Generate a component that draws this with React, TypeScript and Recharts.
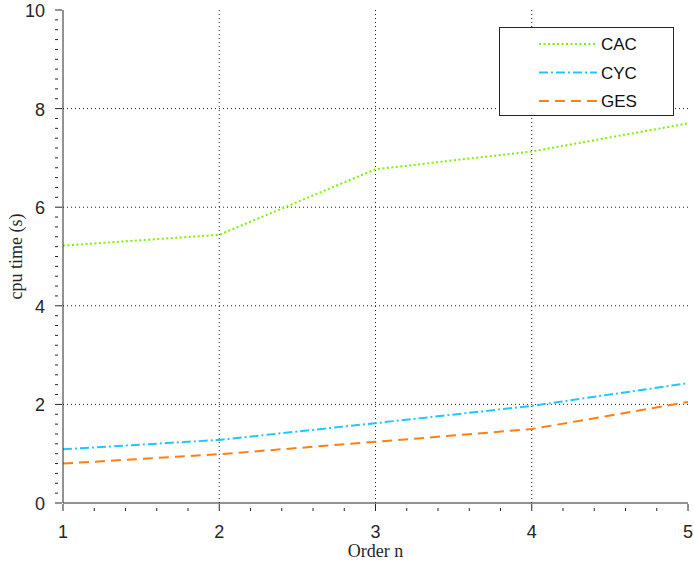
import {
  LineChart,
  Line,
  XAxis,
  YAxis,
  CartesianGrid,
  Legend,
} from "recharts";

const orders = [1, 2, 3, 4, 5];
const cac = [5.22, 5.44, 6.77, 7.13, 7.7];
const cyc = [1.09, 1.28, 1.62, 1.97, 2.43];
const ges = [0.8, 0.99, 1.24, 1.5, 2.05];

const yMajor = [0, 2, 4, 6, 8, 10];
const xMajor = [1, 2, 3, 4, 5];
const yMinor = Array.from({ length: 51 }, (_, i) => Math.round(i * 2) / 10);
const xMinor = Array.from({ length: 21 }, (_, i) => 1 + i * 0.2);

const series = [
  { key: "CAC", color: "#7cf400", dash: "2 2.5" },
  { key: "CYC", color: "#1ec8ff", dash: "9 3 2 3" },
  { key: "GES", color: "#ff8010", dash: "10 6" },
];

const data = orders.map((n, i) => ({ n, CAC: cac[i], CYC: cyc[i], GES: ges[i] }));

const tickFont = { fontFamily: "Liberation Sans, Arial, sans-serif", fontSize: 18, fill: "#262626" };
const serif = "Liberation Serif, Times New Roman, serif";

const YTick = (props: any) => {
  const { x, y, payload } = props;
  const v = payload.value;
  const major = yMajor.some((m) => Math.abs(m - v) < 1e-6);
  const len = major ? 7 : 3;
  return (
    <g>
      <line x1={x} x2={x + len} y1={y} y2={y} stroke="#262626" strokeWidth={1} />
      {major && (
        <text x={x - 10} y={y} dy={7} textAnchor="end" {...tickFont}>
          {v}
        </text>
      )}
    </g>
  );
};

const XTick = (props: any) => {
  const { x, y, payload } = props;
  const v = payload.value;
  const major = xMajor.some((m) => Math.abs(m - v) < 1e-6);
  const len = major ? 7 : 3;
  return (
    <g>
      <line x1={x} x2={x} y1={y} y2={y - len} stroke="#262626" strokeWidth={1} />
      {major && (
        <text x={x} y={y + 27} textAnchor="middle" {...tickFont}>
          {Math.round(v)}
        </text>
      )}
    </g>
  );
};

const LegendBox = () => (
  <div
    style={{
      width: 175,
      height: 89,
      border: "1px solid #262626",
      background: "#fff",
      boxSizing: "border-box",
    }}
  >
    <svg width={173} height={87}>
      {series.map((s, i) => (
        <g key={s.key}>
          <line
            x1={39}
            x2={97}
            y1={16 + i * 28.5}
            y2={16 + i * 28.5}
            stroke={s.color}
            strokeWidth={2}
            strokeDasharray={s.dash}
          />
          <text
            x={101}
            y={16 + i * 28.5}
            dy={6}
            fontFamily="Liberation Sans, Arial, sans-serif"
            fontSize={17}
            fill="#111"
          >
            {s.key}
          </text>
        </g>
      ))}
    </svg>
  </div>
);

export default function App() {
  return (
    <div style={{ position: "absolute", left: 0, top: 0, width: 694, height: 562, background: "#fff" }}>
      <LineChart width={694} height={562} data={data} margin={{ top: 10, right: 6, bottom: 0, left: 0 }}>
        <CartesianGrid
          stroke="#222"
          strokeDasharray="1 3"
          strokeWidth={1}
          horizontalValues={[2, 4, 6, 8]}
          verticalValues={[2, 3, 4]}
        />
        <XAxis
          dataKey="n"
          type="number"
          domain={[1, 5]}
          ticks={xMinor}
          interval={0}
          tickLine={false}
          tick={<XTick />}
          axisLine={{ stroke: "#262626" }}
          height={59}
          allowDataOverflow
          label={{
            value: "Order n",
            position: "insideBottom",
            offset: 5,
            style: { fontFamily: serif, fontSize: 18, fill: "#262626" },
          }}
        />
        <XAxis xAxisId="top" orientation="top" dataKey="n" type="number" domain={[1, 5]} height={0} tick={false} tickLine={false} axisLine={{ stroke: "#262626" }} />
        <YAxis
          type="number"
          domain={[0, 10]}
          ticks={yMinor}
          interval={0}
          tickLine={false}
          tick={<YTick />}
          axisLine={{ stroke: "#262626" }}
          width={63}
          allowDataOverflow
          label={{
            value: "cpu time (s)",
            angle: -90,
            position: "insideLeft",
            offset: 16,
            style: { textAnchor: "middle", fontFamily: serif, fontSize: 18, fill: "#262626" },
          }}
        />
        <YAxis yAxisId="right" orientation="right" domain={[0, 10]} width={0} tick={false} tickLine={false} axisLine={{ stroke: "#262626" }} />
        <Legend
          layout="horizontal"
          verticalAlign="middle"
          align="center"
          content={<LegendBox />}
          wrapperStyle={{ position: "absolute", left: 499, top: 27, width: 175 }}
        />
        {series.map((s) => (
          <Line
            key={s.key}
            dataKey={s.key}
            stroke={s.color}
            strokeWidth={2}
            strokeDasharray={s.dash}
            dot={false}
            type="linear"
            isAnimationActive={false}
          />
        ))}
      </LineChart>
    </div>
  );
}
